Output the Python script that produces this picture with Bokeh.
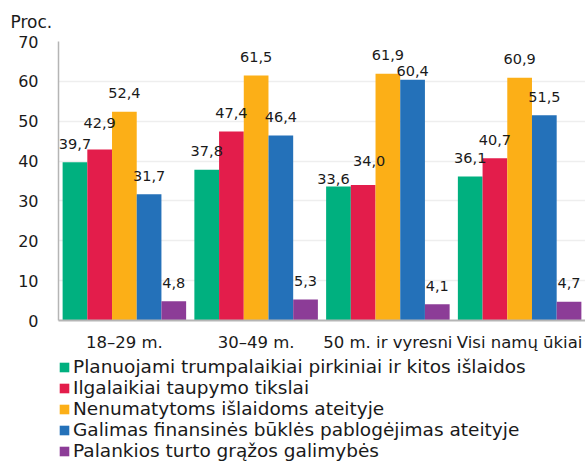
from bokeh.plotting import figure
from bokeh.layouts import column
from bokeh.models import ColumnDataSource, Legend, LegendItem, FactorRange, Range1d, FixedTicker
from bokeh.transform import dodge
from bokeh.core.properties import value
from bokeh.embed import file_html
from bokeh.resources import INLINE

# ---- data ----
categories = ["18–29 m.", "30–49 m.", "50 m. ir vyresni", "Visi namų ūkiai"]
series_names = [
    "Planuojami trumpalaikiai pirkiniai ir kitos išlaidos",
    "Ilgalaikiai taupymo tikslai",
    "Nenumatytoms išlaidoms ateityje",
    "Galimas finansinės būklės pablogėjimas ateityje",
    "Palankios turto grąžos galimybės",
]
planuojami = [39.7, 37.8, 33.6, 36.1]
ilgalaikiai = [42.9, 47.4, 34.0, 40.7]
nenumatytoms = [52.4, 61.5, 61.9, 60.9]
galimas = [31.7, 46.4, 60.4, 51.5]
palankios = [4.8, 5.3, 4.1, 4.7]
y_ticks = [0, 10, 20, 30, 40, 50, 60, 70]
y_axis_title = "Proc."

# ---- styling ----
colors = ["#00B07F", "#E31D4B", "#FCAF17", "#2471B9", "#8C3C97"]
FONT = "DejaVu Sans"
TXT = "#1a1a1a"
bar_w = 0.1875
offsets = [-2 * bar_w, -bar_w, 0.0, bar_w, 2 * bar_w]
# label nudges (dx, dy in px) to avoid overlaps, as in the reference
nudges = {(0, 1): (0, -8), (2, 0): (-5, 11), (2, 1): (6, -5), (2, 3): (0, 10)}

all_series = [planuojami, ilgalaikiai, nenumatytoms, galimas, palankios]
keys = ["s0", "s1", "s2", "s3", "s4"]
data = {"cat": categories}
for k, s in zip(keys, all_series):
    data[k] = s
src = ColumnDataSource(data)

p = figure(x_range=FactorRange(*categories), y_range=Range1d(0, 70),
           frame_width=527, frame_height=279, output_backend="svg", toolbar_location=None,
           min_border_left=58, min_border_right=0, min_border_top=41, min_border_bottom=0)
p.outline_line_color = None
p.background_fill_color = "white"
p.border_fill_color = "white"

for i, (k, s) in enumerate(zip(keys, all_series)):
    p.vbar(x=dodge("cat", offsets[i], range=p.x_range), top=k, width=bar_w,
           source=src, fill_color=colors[i], line_color=None)

for i, s in enumerate(all_series):
    xo = [nudges.get((j, i), (0, 0))[0] for j in range(len(categories))]
    yo = [-18.5 + nudges.get((j, i), (0, 0))[1] for j in range(len(categories))]
    lsrc = ColumnDataSource(dict(cat=categories, v=s,
                                 lbl=[f"{v:.1f}".replace(".", ",") for v in s],
                                 xo=xo, yo=yo))
    p.text(x=dodge("cat", offsets[i], range=p.x_range), y="v", text="lbl",
           x_offset="xo", y_offset="yo", source=lsrc,
           text_font=value(FONT), text_font_size="14.5px", text_color=TXT,
           text_align="center", text_baseline="middle")

p.yaxis.ticker = FixedTicker(ticks=y_ticks)
for ax in (p.xaxis, p.yaxis):
    ax.axis_line_color = "#b5b5b5"
    ax.major_tick_line_color = None
    ax.minor_tick_line_color = None
    ax.major_label_text_font = FONT
    ax.major_label_text_color = TXT
p.yaxis.major_label_text_font_size = "16px"
p.xaxis.major_label_text_font_size = "16.5px"
p.xaxis.axis_line_width = 2
p.yaxis.axis_line_width = 1.5
p.yaxis.major_label_standoff = 14
p.xaxis.major_label_standoff = 6
p.xgrid.grid_line_color = None
p.ygrid.grid_line_color = "#eeeeee"
p.ygrid.grid_line_width = 1.5

p.title.text = y_axis_title
p.title.text_font = FONT
p.title.text_font_size = "17px"
p.title.text_font_style = "normal"
p.title.text_color = TXT
p.title.align = "left"
p.title.offset = -48
p.title.standoff = 19

# ---- legend panel (separate small figure below the chart) ----
# zero-width bars from the same data: invisible, they only carry the legend swatches
pl = figure(width=585, height=109, x_range=FactorRange(*categories), y_range=Range1d(0, 70),
            x_axis_type=None, y_axis_type=None, output_backend="svg", toolbar_location=None,
            min_border_left=45, min_border_top=2, min_border_right=0, min_border_bottom=0)
pl.outline_line_color = None
pl.background_fill_color = "white"
pl.border_fill_color = "white"
leg_renderers = [pl.vbar(x="cat", top=k, width=0, source=src, fill_color=c, line_color=None)
                 for k, c in zip(keys, colors)]
legend = Legend(items=[LegendItem(label=n, renderers=[r]) for n, r in zip(series_names, leg_renderers)],
                location="top_left", orientation="vertical",
                label_text_font=FONT, label_text_font_size="18.5px", label_text_color=TXT,
                glyph_width=12, glyph_height=12, label_standoff=3, spacing=0,
                padding=0, margin=0, border_line_color=None, background_fill_alpha=0)
pl.add_layout(legend, "center")

layout = column(p, pl, spacing=0)
open("out.html", "w").write(file_html(layout, INLINE))
